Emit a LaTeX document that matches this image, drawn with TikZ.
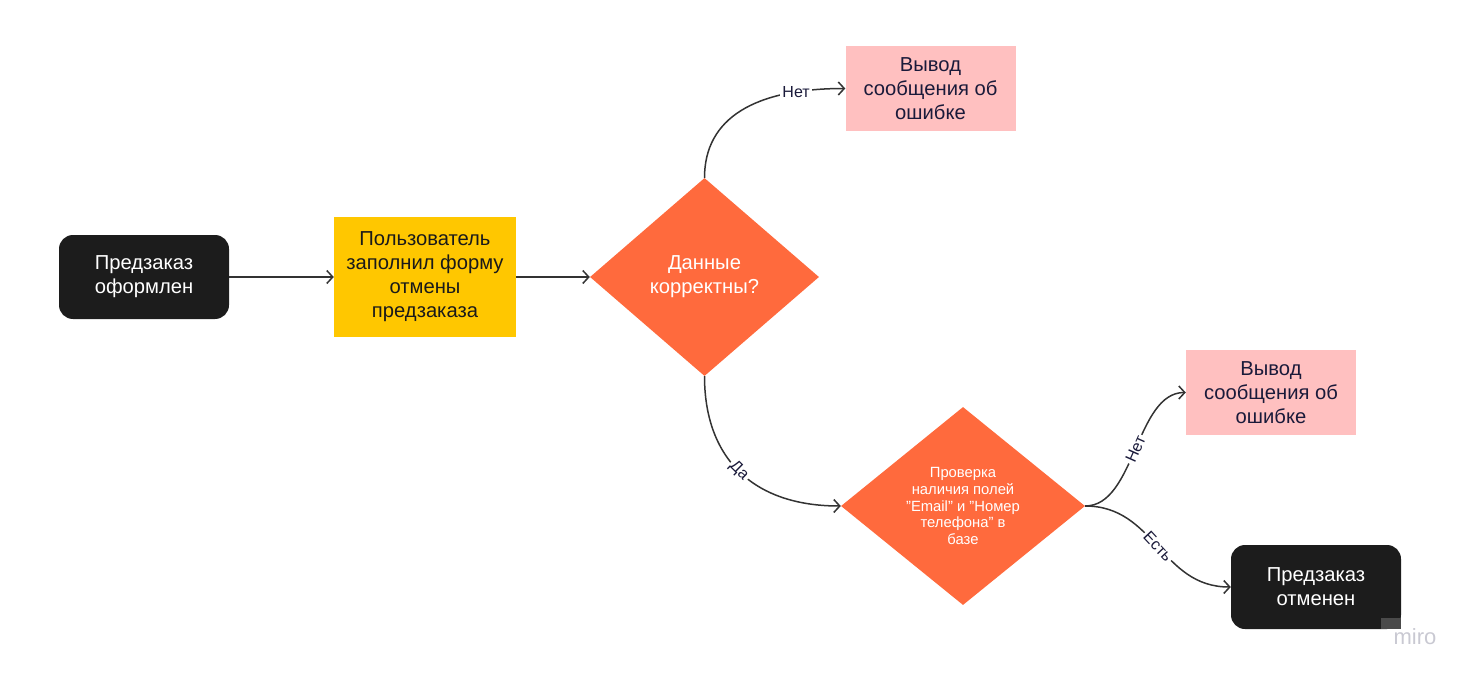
\documentclass[tikz,border=0pt]{standalone}
\usepackage{fontspec}
\setmainfont{Liberation Sans}
\usetikzlibrary{shapes.geometric,arrows.meta}
\definecolor{nodeblack}{HTML}{1C1C1C}
\definecolor{myyellow}{HTML}{FFC700}
\definecolor{myorange}{HTML}{FF6A3D}
\definecolor{mypink}{HTML}{FFC0C0}
\definecolor{navy}{HTML}{1A1A3A}
\definecolor{textdark}{HTML}{1A1A1A}
\definecolor{linegray}{HTML}{333333}
\definecolor{wmgray}{HTML}{C9C9D2}
\definecolor{wmdark}{HTML}{4A4A4A}
\begin{document}
\begin{tikzpicture}[x=1pt,y=-1pt,
  mainfont/.style={font=\fontsize{20.2}{24}\selectfont},
  blackbox/.style={mainfont, fill=nodeblack, rounded corners=14pt, minimum width=170pt, minimum height=84pt, text=white, align=center, inner sep=0pt},
  yellowbox/.style={mainfont, fill=myyellow, minimum width=182pt, minimum height=120pt, text=textdark, align=center, inner sep=0pt},
  pinkbox/.style={mainfont, fill=mypink, minimum width=170pt, minimum height=85pt, text=navy, align=center, inner sep=0pt},
  dia/.style={diamond, fill=myorange, inner sep=0pt},
  diatext/.style={text=white, align=center, inner sep=0pt},
  conn/.style={draw=linegray, line width=1.5pt, -{Straight Barb[length=6pt,width=13pt]}},
  lbl/.style={fill=white, text=navy, font=\fontsize{16}{17}\selectfont, inner sep=2pt}
]
\useasboundingbox (0,0) rectangle (1472,679);

\node[blackbox] (a) at (144,277) {Предзаказ\\оформлен};
\node[yellowbox] (b) at (425,277) {Пользователь\\заполнил форму\\отмены\\предзаказа};
\node[dia, minimum width=229pt, minimum height=198pt] (d1) at (704.5,277) {};
\node[diatext, mainfont] (d1t) at (d1.center) {Данные\\корректны?};
\node[pinkbox] (e1) at (930.5,88.5) {Вывод\\сообщения об\\ошибке};
\node[dia, minimum width=244pt, minimum height=198pt] (d2) at (963,506) {};
\node[diatext, font=\fontsize{14.8}{16.7}\selectfont] (d2t) at (d2.center) {Проверка\\наличия полей\\"Email" и "Номер\\телефона" в\\базе};
\node[pinkbox] (e2) at (1271,392.5) {Вывод\\сообщения об\\ошибке};
\node[blackbox] (f) at (1316,587) {Предзаказ\\отменен};

\draw[conn] (a.east) -- (b.west);
\draw[conn] (b.east) -- (d1.west);
\draw[conn] (d1.north) .. controls +(0,-60) and +(-90,0) .. node[lbl, pos=0.8] {Нет} (e1.west);
\draw[conn] (d1.south) .. controls +(0,80) and +(-90,0) .. node[lbl, pos=0.5, sloped] {Да} (d2.west);
\draw[conn] (d2.east) .. controls +(50,0) and +(-50,0) .. node[lbl, pos=0.5, sloped] {Нет} (e2.west);
\draw[conn] (d2.east) .. controls +(70,0) and +(-70,0) .. node[lbl, pos=0.5, sloped] {Есть} (f.west);

\fill[wmdark] (1381,618) rectangle (1401,629);
\node[text=wmgray, font=\fontsize{22}{22}\selectfont, inner sep=0pt] (wm) at (1415,637) {miro};
\end{tikzpicture}
\end{document}
